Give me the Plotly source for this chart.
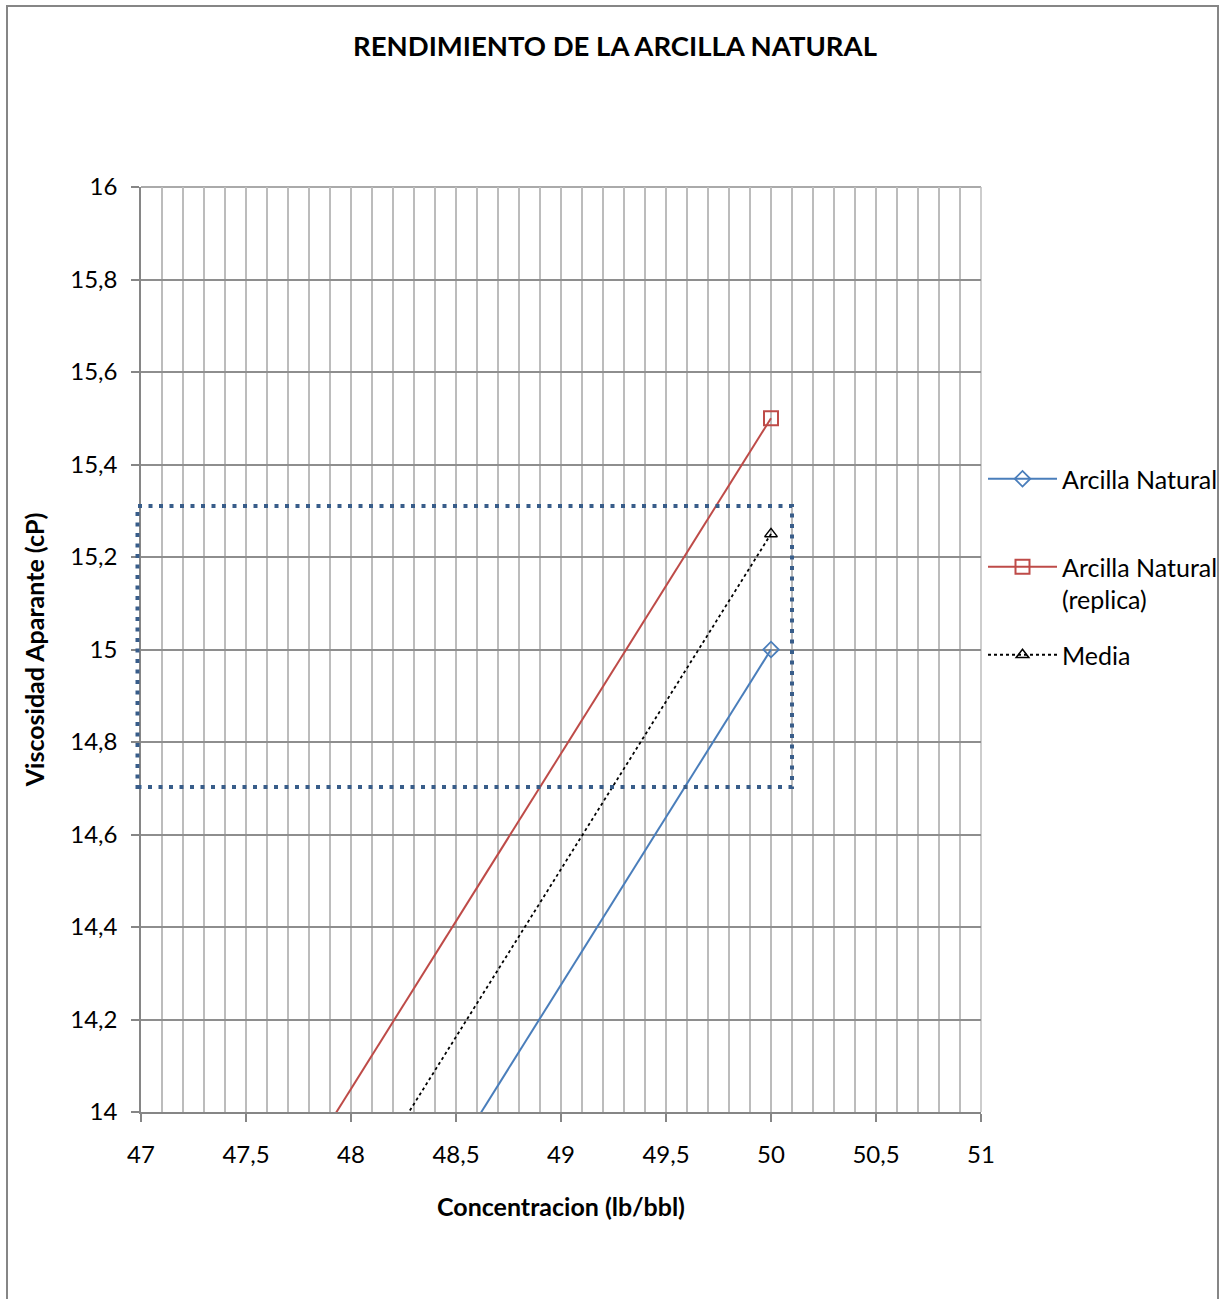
import plotly.graph_objects as go

# Data
concentracion = [40, 50]
arcilla_natural = [7.75, 15.0]
arcilla_replica = [8.25, 15.5]
media = [8.0, 15.25]

x_ticks = [47, 47.5, 48, 48.5, 49, 49.5, 50, 50.5, 51]
x_labels = ["47", "47,5", "48", "48,5", "49", "49,5", "50", "50,5", "51"]
y_ticks = [14, 14.2, 14.4, 14.6, 14.8, 15, 15.2, 15.4, 15.6, 15.8, 16]
y_labels = ["14", "14,2", "14,4", "14,6", "14,8", "15", "15,2", "15,4", "15,6", "15,8", "16"]

FONT = "Lato"

fig = go.Figure()
fig.add_trace(go.Scatter(
    x=concentracion, y=arcilla_natural, name="Arcilla Natural<br>&nbsp;", mode="lines+markers",
    line=dict(color="#4a7ebb", width=2),
    marker=dict(symbol="diamond-open", size=12, color="#4a7ebb", line=dict(width=1.8)),
    legendgroup="a"))
fig.add_trace(go.Scatter(
    x=concentracion, y=arcilla_replica, name="Arcilla Natural<br>(replica)", mode="lines+markers",
    line=dict(color="#be4b48", width=2),
    marker=dict(symbol="square-open", size=14, color="#be4b48", line=dict(width=2)),
    legendgroup="b"))
fig.add_trace(go.Scatter(
    x=concentracion, y=media, name="Media", mode="lines+markers",
    line=dict(color="black", width=1.8, dash="dot"),
    marker=dict(symbol="triangle-up-open", size=11, color="black", line=dict(width=1.5)),
    legendgroup="c"))

px0, px1 = 141, 981
py0, py1 = 187, 1112
W, H = 1230, 1299

def paper_x(px):
    return (px - px0) / (px1 - px0)

def paper_y(py):
    return (py1 - py) / (py1 - py0)

fig.update_layout(
    width=W, height=H,
    margin=dict(l=px0, r=W - px1, t=py0, b=H - py1, pad=0, autoexpand=False),
    paper_bgcolor="white", plot_bgcolor="white",
    font=dict(family=FONT, size=24, color="black"),
    title=dict(text="<b>RENDIMIENTO DE LA ARCILLA NATURAL</b>", x=0.5, xref="container",
               y=1 - 46 / H, yanchor="middle", font=dict(family=FONT, size=27.5, color="black")),
    xaxis=dict(range=[47, 51], tickvals=x_ticks, ticktext=x_labels,
               showgrid=True, gridcolor="#bcbcbc", gridwidth=1.5,
               minor=dict(dtick=0.1, tick0=47, showgrid=True, gridcolor="#bcbcbc", gridwidth=1.5),
               ticks="outside", ticklen=8, tickcolor="#868686", tickwidth=1.5,
               showline=True, linecolor="#868686", linewidth=1.5,
               zeroline=False, tickfont=dict(size=24), ticklabelstandoff=12,
               title=dict(text="<b>Concentracion (lb/bbl)</b>", font=dict(size=25), standoff=32)),
    yaxis=dict(range=[14, 16], tickvals=y_ticks, ticktext=y_labels,
               showgrid=True, gridcolor="#8e8e8e", gridwidth=1.5,
               ticks="outside", ticklen=8, tickcolor="#868686", tickwidth=1.5,
               showline=True, linecolor="#868686", linewidth=1.5,
               zeroline=False, tickfont=dict(size=24), ticklabelstandoff=9,
               title=dict(text="<b>Viscosidad Aparante (cP)</b>", font=dict(size=25), standoff=18)),
    legend=dict(x=paper_x(983), xanchor="left", y=paper_y(456), yanchor="top",
                font=dict(size=25), itemwidth=69, valign="top", tracegroupgap=20,
                bgcolor="rgba(0,0,0,0)"),
    showlegend=True,
)

# plot-area edge lines (top gridline at 16, right gridline at 51)
fig.add_shape(type="line", xref="paper", yref="paper", x0=0, x1=1, y0=1, y1=1,
              line=dict(color="#8e8e8e", width=1.5), layer="below")
fig.add_shape(type="line", xref="paper", yref="paper", x0=1, x1=1, y0=0, y1=1,
              line=dict(color="#bcbcbc", width=1.5), layer="below")

# highlight box (drawn in paper space so its left edge can sit just outside the axis)
fig.add_shape(type="rect", xref="paper", yref="paper",
              x0=paper_x(137.5), x1=paper_x(792), y0=paper_y(787), y1=paper_y(506),
              line=dict(color="#385d8a", width=4, dash="4px,6.5px"), layer="above")

# outer chart border
fig.add_shape(type="rect", xref="paper", yref="paper",
              x0=paper_x(7), x1=paper_x(1218), y0=paper_y(1310), y1=paper_y(6),
              line=dict(color="#868686", width=2), layer="below")

fig.write_html("out.html")
